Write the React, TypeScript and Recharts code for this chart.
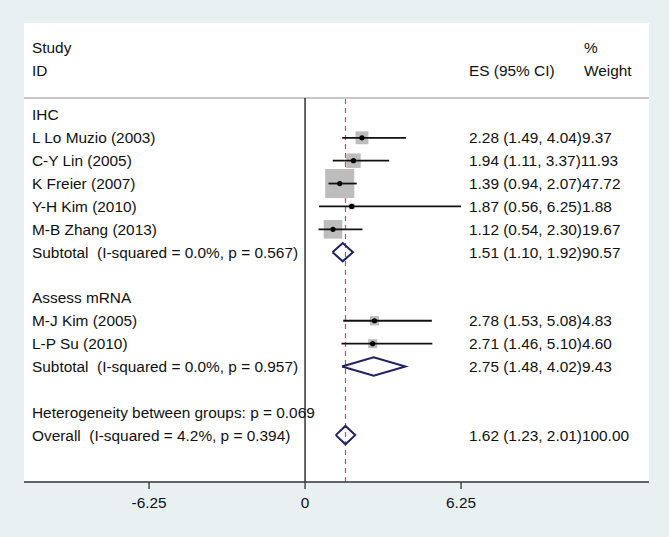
import React from 'react';
import { ScatterChart, Scatter, XAxis, YAxis, ReferenceLine } from 'recharts';

// studies, one entry per row
const studyNames = ['L Lo Muzio (2003)', 'C-Y Lin (2005)', 'K Freier (2007)', 'Y-H Kim (2010)', 'M-B Zhang (2013)', 'M-J Kim (2005)', 'L-P Su (2010)'];
const studyRows = [1, 2, 3, 4, 5, 9, 10];
const studyES = [2.28, 1.94, 1.39, 1.87, 1.12, 2.78, 2.71];
const studyLow = [1.49, 1.11, 0.94, 0.56, 0.54, 1.53, 1.46];
const studyHigh = [4.04, 3.37, 2.07, 6.25, 2.30, 5.08, 5.10];
const studyWeight = [9.37, 11.93, 47.72, 1.88, 19.67, 4.83, 4.60];

// subtotals + overall (diamonds)
const pooledNames = ['Subtotal  (I-squared = 0.0%, p = 0.567)', 'Subtotal  (I-squared = 0.0%, p = 0.957)', 'Overall  (I-squared = 4.2%, p = 0.394)'];
const pooledRows = [6, 11, 14];
const pooledES = [1.51, 2.75, 1.62];
const pooledLow = [1.10, 1.48, 1.23];
const pooledHigh = [1.92, 4.02, 2.01];
const pooledWeight = [90.57, 9.43, 100.0];

// plain text rows
const headingNames = ['IHC', 'Assess mRNA', 'Heterogeneity between groups: p = 0.069'];
const headingRows = [0, 8, 13];

const tickValues = [-6.25, 0, 6.25];
const tickLabels = ['-6.25', '0', '6.25'];

const FONT = '"Liberation Sans", Arial, sans-serif';
const FS = 15.4;
const TEXT = '#111';
const BG = '#e8f0f2';
const NAVY = '#1f2163';

const fmt = (v: number) => v.toFixed(2);

const studyData = studyNames.map((name, i) => ({ x: studyES[i], y: studyRows[i], w: studyWeight[i] }));

// CI whiskers as two-point segments
const ciSegments = studyNames.map((name, i) => [
  { x: studyLow[i], y: studyRows[i] },
  { x: studyHigh[i], y: studyRows[i] },
]);

const textData = [
  ...studyNames.map((name, i) => ({
    x: 0,
    y: studyRows[i],
    label: name,
    stat: `${fmt(studyES[i])} (${fmt(studyLow[i])}, ${fmt(studyHigh[i])})${fmt(studyWeight[i])}`,
  })),
  ...pooledNames.map((name, i) => ({
    x: 0,
    y: pooledRows[i],
    label: name,
    stat: `${fmt(pooledES[i])} (${fmt(pooledLow[i])}, ${fmt(pooledHigh[i])})${fmt(pooledWeight[i])}`,
  })),
  ...headingNames.map((name, i) => ({ x: 0, y: headingRows[i], label: name, stat: '' })),
];

const HALF = 0.4;
const diamonds = pooledES.map((es, i) => [
  { x: pooledLow[i], y: pooledRows[i] },
  { x: es, y: pooledRows[i] - HALF },
  { x: pooledHigh[i], y: pooledRows[i] },
  { x: es, y: pooledRows[i] + HALF },
  { x: pooledLow[i], y: pooledRows[i] },
]);

const BoxShape = (props: any) => {
  const { cx, cy, payload } = props;
  const s = 4.2 * Math.sqrt(payload.w);
  return <rect x={cx - s / 2} y={cy - s / 2} width={s} height={s} fill="#bdbdbd" />;
};

const DotShape = (props: any) => <circle cx={props.cx} cy={props.cy} r={2.6} fill="#000" />;

const TextShape = (props: any) => {
  const { cy, payload } = props;
  return (
    <g fontFamily={FONT} fontSize={FS} fill={TEXT}>
      <text x={32} y={cy + 5.5} xmlSpace="preserve" style={{ whiteSpace: 'pre' }}>{payload.label}</text>
      {payload.stat && <text x={469} y={cy + 5.5}>{payload.stat}</text>}
    </g>
  );
};

const NoShape = () => <g />;

export default function App() {
  return (
    <div style={{ position: 'absolute', left: 0, top: 0, width: 669, height: 537, background: BG }}>
      <div style={{ position: 'absolute', left: 24, top: 23, width: 625, height: 459, background: '#fff' }} />
      <div style={{ position: 'absolute', left: 24, top: 97, width: 625, height: 1.5, background: '#c8c8c8' }} />
      <div style={{ position: 'absolute', left: 0, top: 0 }}>
        <ScatterChart width={669} height={537} margin={{ top: 98, right: 20, bottom: 25, left: 24 }}>
          <XAxis
            type="number"
            dataKey="x"
            domain={[-11.26, 13.78]}
            allowDataOverflow
            ticks={tickValues}
            interval={0}
            tickFormatter={(v: number) => tickLabels[tickValues.indexOf(v)] ?? String(v)}
            axisLine={{ stroke: '#333', strokeWidth: 1.5 }}
            tickLine={{ stroke: '#333', strokeWidth: 1.3 }}
            tickSize={7}
            tickMargin={8}
            tick={{ fontSize: FS, fill: TEXT, fontFamily: FONT }}
            height={30}
          />
          <YAxis type="number" dataKey="y" domain={[-0.74, 16.05]} reversed allowDataOverflow hide width={0} />
          <ReferenceLine x={0} stroke="#111" strokeWidth={1.3} />
          <ReferenceLine x={pooledES[2]} stroke="#a0606c" strokeWidth={1.2} strokeDasharray="5 4" />
          <Scatter data={studyData} shape={BoxShape} isAnimationActive={false} />
          {ciSegments.map((seg, i) => (
            <Scatter
              key={`ci${i}`}
              data={seg}
              line={{ stroke: '#111', strokeWidth: 1.8 }}
              lineJointType="linear"
              shape={NoShape}
              isAnimationActive={false}
            />
          ))}
          <Scatter data={studyData} shape={DotShape} isAnimationActive={false} />
          {diamonds.map((d, i) => (
            <Scatter
              key={`d${i}`}
              data={d}
              line={{ stroke: NAVY, strokeWidth: 2 }}
              lineJointType="linear"
              shape={NoShape}
              isAnimationActive={false}
            />
          ))}
          <Scatter data={textData} shape={TextShape} isAnimationActive={false} />
        </ScatterChart>
      </div>
      <svg width={669} height={537} style={{ position: 'absolute', left: 0, top: 0, pointerEvents: 'none' }}>
        <g fontFamily={FONT} fontSize={FS} fill={TEXT}>
          <text x={32} y={53}>Study</text>
          <text x={32} y={76}>ID</text>
          <text x={469} y={76}>ES (95% CI)</text>
          <text x={584} y={53}>%</text>
          <text x={584} y={76}>Weight</text>
        </g>
      </svg>
    </div>
  );
}
